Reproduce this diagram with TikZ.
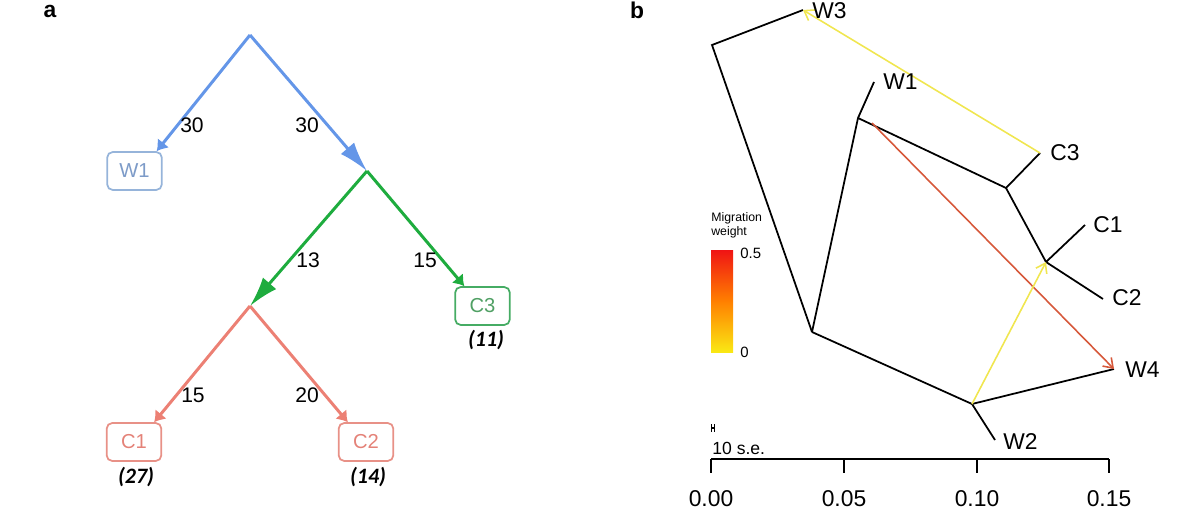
\documentclass[tikz,border=0pt]{standalone}
\usepackage{fontspec}
\setmainfont{Liberation Sans}
\newfontfamily\carl{Carlito}
\usetikzlibrary{arrows.meta,calc}
\definecolor{ablue}{RGB}{100,150,232}
\definecolor{agreen}{RGB}{30,172,62}
\definecolor{ared}{RGB}{236,128,116}
\definecolor{bblueborder}{RGB}{150,180,218}
\definecolor{bbluetext}{RGB}{125,155,200}
\definecolor{bgreenborder}{RGB}{70,172,100}
\definecolor{bgreentext}{RGB}{80,160,100}
\definecolor{bredborder}{RGB}{232,145,135}
\definecolor{bredtext}{RGB}{228,130,120}
\definecolor{migyellow}{RGB}{240,230,80}
\definecolor{migred}{RGB}{214,88,58}
\definecolor{barred}{RGB}{240,20,20}
\definecolor{baryellow}{RGB}{250,232,20}
\tikzset{
  popbox/.style={draw, rounded corners=3pt, line width=1pt, minimum width=31pt, minimum height=21.5pt, inner sep=0pt, font=\fontsize{11.5}{13}\selectfont},
  branch/.style={line width=1.7pt},
  bighead/.style={-{Latex[length=17pt,width=10pt]}},
  smallhead/.style={-{Latex[length=6pt,width=8.5pt]}},
  brlabel/.style={inner sep=0pt, font=\fontsize{12}{14}\selectfont},
  sizelabel/.style={inner sep=0pt, font=\carl\bfseries\itshape\fontsize{12.5}{14}\selectfont},
  panel/.style={inner sep=0pt, font=\bfseries\fontsize{13}{15}\selectfont},
  treeline/.style={line width=1pt, black},
  tiplabel/.style={anchor=west, inner sep=0pt, font=\fontsize{13}{15}\selectfont},
  migarrow/.style={line width=0.9pt, -{Straight Barb[length=5pt,width=7pt]}},
  axislabel/.style={inner sep=0pt, font=\fontsize{13}{15}\selectfont},
}
\begin{document}
\begin{tikzpicture}[x=0.02cm,y=-0.02cm]
\useasboundingbox (0,0) rectangle (1200,510);

% ---------------- panel a ----------------
\node[panel] (pa) at (50,11) {a};
\coordinate (root) at (250,35);
\coordinate (gnode) at (367,171);
\coordinate (rnode) at (250,306);

\node[popbox, draw=bblueborder, text=bbluetext] (W1) at (134.5,171) {W1};
\node[popbox, draw=bgreenborder, text=bgreentext] (C3) at (482.5,306) {C3};
\node[popbox, draw=bredborder, text=bredtext] (C1) at (134,442) {C1};
\node[popbox, draw=bredborder, text=bredtext] (C2) at (366,442) {C2};

\draw[branch, ablue, smallhead] (root) -- ($(W1.north east)+(-6,0)$);
\draw[branch, ablue, bighead] (root) -- (gnode);
\draw[branch, agreen, bighead] (gnode) -- (rnode);
\draw[branch, agreen, smallhead] (gnode) -- ($(C3.north west)+(10,0)$);
\draw[branch, ared, smallhead] (rnode) -- ($(C1.north east)+(-8,0)$);
\draw[branch, ared, smallhead] (rnode) -- ($(C2.north west)+(10,0)$);

\node[brlabel] (l30a) at (192,125) {30};
\node[brlabel] (l30b) at (307,125) {30};
\node[brlabel] (l13) at (308,260) {13};
\node[brlabel] (l15a) at (425,260) {15};
\node[brlabel] (l15b) at (193,395) {15};
\node[brlabel] (l20) at (307,395) {20};

\node[sizelabel] (n11) at (486,340) {(11)};
\node[sizelabel] (n27) at (136,477) {(27)};
\node[sizelabel] (n14) at (368,477) {(14)};

% ---------------- panel b ----------------
\node[panel] (pb) at (637,10) {b};

\coordinate (tW3) at (803,10);
\coordinate (k1) at (712,45);
\coordinate (rt) at (812,332);
\coordinate (nW1) at (858,118);
\coordinate (tW1) at (874,82);
\coordinate (nC3) at (1006,188);
\coordinate (tC3) at (1040,153);
\coordinate (nC12) at (1046,262);
\coordinate (tC1) at (1085,225);
\coordinate (tC2) at (1103,299);
\coordinate (nW24) at (972,404);
\coordinate (tW4) at (1114,369);
\coordinate (tW2) at (995,440);
\coordinate (mstart) at (872,123);

\draw[treeline] (tW3) -- (k1) -- (rt);
\draw[treeline] (rt) -- (nW1) -- (tW1);
\draw[treeline] (nW1) -- (nC3) -- (tC3);
\draw[treeline] (nC3) -- (nC12) -- (tC1);
\draw[treeline] (nC12) -- (tC2);
\draw[treeline] (rt) -- (nW24) -- (tW4);
\draw[treeline] (nW24) -- (tW2);

\draw[migarrow, migyellow] (tC3) -- (tW3);
\draw[migarrow, migred] (mstart) -- (tW4);
\draw[migarrow, migyellow] (nW24) -- (nC12);

\node[tiplabel] (lW3) at (812,11) {W3};
\node[tiplabel] (lW1) at (883,82) {W1};
\node[tiplabel] (lC3) at (1050,153) {C3};
\node[tiplabel] (lC1) at (1093,225) {C1};
\node[tiplabel] (lC2) at (1112,298) {C2};
\node[tiplabel] (lW4) at (1125,370) {W4};
\node[tiplabel] (lW2) at (1003,442) {W2};

% legend
\node[anchor=north west, inner sep=0pt, align=left, font=\fontsize{7}{8}\selectfont] (mw) at (711,212) {Migration\\weight};
\shade[top color=barred, bottom color=baryellow, middle color=orange] (711,250) rectangle (733,352);
\node[anchor=west, inner sep=0pt, font=\fontsize{8.5}{10}\selectfont] (v05) at (740,253) {0.5};
\node[anchor=west, inner sep=0pt, font=\fontsize{8.5}{10}\selectfont] (v0) at (740,352) {0};

% scale
\draw[line width=0.6pt] (711.5,424) -- (711.5,432) (714.5,424) -- (714.5,432) (711.5,428) -- (714.5,428);
\node[anchor=west, inner sep=0pt, font=\fontsize{10}{12}\selectfont] (se) at (712,448) {10 s.e.};
\coordinate (a0) at (711,459);
\coordinate (a3) at (1109,459);
\draw[line width=0.9pt] (a0) -- (a3);
\foreach \xx/\lab in {711/0.00, 844/0.05, 977/0.10, 1109/0.15} {
  \draw[line width=0.9pt] (\xx,459) -- (\xx,473);
  \node[axislabel] at (\xx,499) {\lab};
}
\end{tikzpicture}
\end{document}
